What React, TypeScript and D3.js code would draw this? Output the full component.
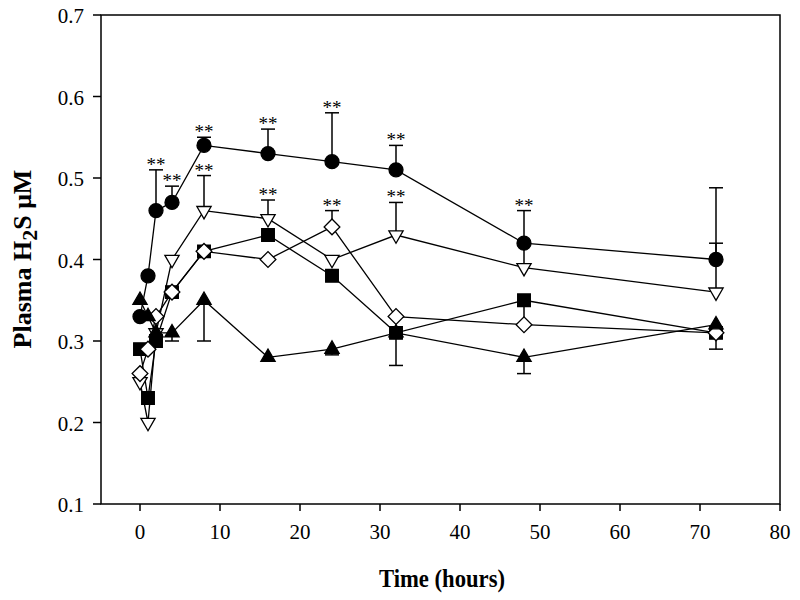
import React from "react";
import * as d3 from "d3";

const times = [0, 1, 2, 4, 8, 16, 24, 32, 48, 72];
const circleVals = [0.33, 0.38, 0.46, 0.47, 0.54, 0.53, 0.52, 0.51, 0.42, 0.40];
const triDownVals = [0.25, 0.20, 0.31, 0.40, 0.46, 0.45, 0.40, 0.43, 0.39, 0.36];
const squareVals = [0.29, 0.23, 0.30, 0.36, 0.41, 0.43, 0.38, 0.31, 0.35, 0.31];
const diamondVals = [0.26, 0.29, 0.33, 0.36, 0.41, 0.40, 0.44, 0.33, 0.32, 0.31];
const triUpVals = [0.35, 0.33, 0.31, 0.31, 0.35, 0.28, 0.29, 0.31, 0.28, 0.32];

// error bars: [time, value, end]
const circleErr = [[2, 0.46, 0.51], [4, 0.47, 0.49], [8, 0.54, 0.55], [16, 0.53, 0.56], [24, 0.52, 0.58], [32, 0.51, 0.54], [48, 0.42, 0.46], [72, 0.40, 0.488]];
const triDownErr = [[8, 0.46, 0.503], [16, 0.45, 0.473], [32, 0.43, 0.47], [48, 0.39, 0.42], [72, 0.36, 0.42]];
const diamondErr = [[24, 0.44, 0.46], [48, 0.32, 0.35]];
const squareErr = [[32, 0.31, 0.27], [72, 0.31, 0.29]];
const triUpErr = [[4, 0.31, 0.30], [8, 0.35, 0.30], [24, 0.29, 0.283], [48, 0.28, 0.26]];

// significance marks: [time, y of cap]
const starMarks = [[2, 0.51], [4, 0.49], [8, 0.55], [16, 0.56], [24, 0.58], [32, 0.54], [48, 0.46], [8, 0.503], [16, 0.473], [32, 0.47], [24, 0.46]];

const xTicks = [0, 10, 20, 30, 40, 50, 60, 70, 80];
const yTicks = [0.1, 0.2, 0.3, 0.4, 0.5, 0.6, 0.7];

const L = 101, R = 780, T = 15, B = 504;

export default function App() {
  const x = d3.scaleLinear().domain([-5, 80]).range([L - 1, R]);
  const y = d3.scaleLinear().domain([0.1, 0.7]).range([B, T]);
  const line = d3.line<[number, number]>().x(d => x(d[0])).y(d => y(d[1]));

  const series = [
    { vals: triDownVals, err: triDownErr, type: "triDown" },
    { vals: squareVals, err: squareErr, type: "square" },
    { vals: diamondVals, err: diamondErr, type: "diamond" },
    { vals: triUpVals, err: triUpErr, type: "triUp" },
    { vals: circleVals, err: circleErr, type: "circle" },
  ];

  const symPath = (type: string) => {
    if (type === "circle") return d3.symbol().type(d3.symbolCircle).size(Math.PI * 49)()!;
    if (type === "square") return d3.symbol().type(d3.symbolSquare).size(160)()!;
    if (type === "diamond") return d3.symbol().type(d3.symbolSquare).size(124)()!;
    return d3.symbol().type(d3.symbolTriangle).size(88)()!;
  };
  const symTransform = (type: string, cx: number, cy: number) => {
    if (type === "diamond") return `translate(${cx},${cy}) rotate(45)`;
    if (type === "triDown") return `translate(${cx},${cy}) rotate(180)`;
    return `translate(${cx},${cy})`;
  };
  const fillOf = (type: string) => (type === "triDown" || type === "diamond" ? "#fff" : "#000");

  const font = "'Liberation Serif', 'Times New Roman', serif";

  return (
    <svg width={800} height={600} style={{ position: "absolute", left: 0, top: 0, background: "#fff" }}>
      {/* frame */}
      <rect x={L} y={T} width={R - L} height={B - T} fill="none" stroke="#000" strokeWidth={1.5} />
      {/* x ticks */}
      {xTicks.map(t => (
        <g key={"xt" + t}>
          <line x1={x(t)} x2={x(t)} y1={B} y2={B + 7} stroke="#000" strokeWidth={1.5} />
          <text x={x(t)} y={B + 35} textAnchor="middle" fontFamily={font} fontSize={21} fill="#000">{t}</text>
        </g>
      ))}
      {/* y ticks */}
      {yTicks.map(v => (
        <g key={"yt" + v}>
          <line x1={L - 8} x2={L} y1={y(v)} y2={y(v)} stroke="#000" strokeWidth={1.5} />
          <text x={L - 17} y={y(v) + 8} textAnchor="end" fontFamily={font} fontSize={21} fill="#000">{v.toFixed(1)}</text>
        </g>
      ))}
      {/* axis titles */}
      <text x={442} y={587} textAnchor="middle" fontFamily={font} fontSize={26} fontWeight="bold" fill="#000"
        textLength={126} lengthAdjust="spacingAndGlyphs">Time (hours)</text>
      <text transform={`translate(31,259) rotate(-90)`} textAnchor="middle" fontFamily={font} fontSize={26} fontWeight="bold" fill="#000">
        <tspan>Plasma H</tspan>
        <tspan fontSize={22} dy={6}>2</tspan>
        <tspan dy={-6}>S μM</tspan>
      </text>
      {/* error bars */}
      {series.map((s, si) => s.err.map((e, i) => (
        <g key={"e" + si + "-" + i}>
          <line x1={x(e[0])} x2={x(e[0])} y1={y(e[1])} y2={y(e[2])} stroke="#000" strokeWidth={1.5} />
          <line x1={x(e[0]) - 7} x2={x(e[0]) + 7} y1={y(e[2])} y2={y(e[2])} stroke="#000" strokeWidth={1.5} />
        </g>
      )))}
      {/* lines */}
      {series.map((s, si) => (
        <path key={"l" + si} d={line(times.map((t, i) => [t, s.vals[i]]) as [number, number][])!}
          fill="none" stroke="#000" strokeWidth={1.3} />
      ))}
      {/* markers */}
      {series.map((s, si) => s.vals.map((v, i) => (
        <path key={"m" + si + "-" + i} d={symPath(s.type)} transform={symTransform(s.type, x(times[i]), y(v))}
          fill={fillOf(s.type)} stroke="#000" strokeWidth={1.3} />
      )))}
      {/* significance stars */}
      {starMarks.map((m, i) => (
        <text key={"s" + i} x={x(m[0])} y={y(m[1]) + 1} textAnchor="middle" fontFamily={font} fontSize={19} fill="#000">**</text>
      ))}
    </svg>
  );
}
